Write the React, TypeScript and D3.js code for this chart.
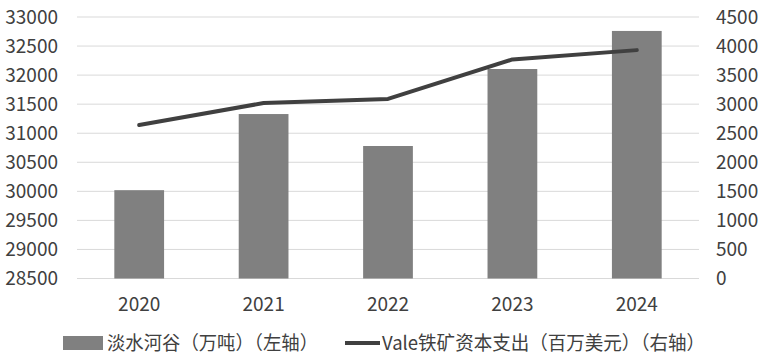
import { scaleBand, scaleLinear, line as d3Line, range } from "d3";

const years = ["2020", "2021", "2022", "2023", "2024"];
const valeOutput = [30020, 31330, 30780, 32105, 32760];
const valeCapex = [2640, 3020, 3090, 3770, 3930];
const leftTicks = range(28500, 33001, 500);
const rightTicks = range(0, 4501, 500);
const barLabel = "淡水河谷（万吨）（左轴）";
const lineLabel = "Vale铁矿资本支出（百万美元）（右轴）";

const W = 769;
const H = 361;
const margin = { top: 17, right: 70, bottom: 82.5, left: 77 };
const FONT = "'Noto Sans CJK SC', 'Noto Sans', sans-serif";

export default function App() {
  const width = W - margin.left - margin.right;
  const height = H - margin.top - margin.bottom;

  const x = scaleBand<string>().domain(years).range([0, width]).paddingInner(0.6).paddingOuter(0.3);
  const yLeft = scaleLinear().domain([28500, 33000]).range([height, 0]);
  const yRight = scaleLinear().domain([0, 4500]).range([height, 0]);

  const cx = (y: string) => (x(y) ?? 0) + x.bandwidth() / 2;

  const pathD =
    d3Line<number>()
      .x((_, i) => cx(years[i]))
      .y((d) => yRight(d))(valeCapex) ?? "";

  return (
    <svg width={W} height={H} style={{ position: "absolute", left: 0, top: 0 }} fontFamily={FONT}>
      <rect width={W} height={H} fill="#fff" />
      <g transform={`translate(${margin.left},${margin.top})`}>
        {leftTicks.map((t) => (
          <line key={`g-${t}`} x1={0} x2={width} y1={yLeft(t)} y2={yLeft(t)} stroke="#d9d9d9" strokeWidth={1} />
        ))}

        {years.map((yr, i) => (
          <rect
            key={`bar-${yr}`}
            x={x(yr)}
            width={x.bandwidth()}
            y={yLeft(valeOutput[i])}
            height={height - yLeft(valeOutput[i])}
            fill="#808080"
          />
        ))}

        <path d={pathD} fill="none" stroke="#404040" strokeWidth={4} strokeLinejoin="round" strokeLinecap="round" />

        {leftTicks.map((t) => (
          <text key={`l-${t}`} x={-19} y={yLeft(t)} dy="0.35em" textAnchor="end" fontSize={19} fill="#404040">
            {t}
          </text>
        ))}

        {rightTicks.map((t) => (
          <text key={`r-${t}`} x={width + 17} y={yRight(t)} dy="0.35em" textAnchor="start" fontSize={19} fill="#404040">
            {t}
          </text>
        ))}

        {years.map((yr) => (
          <text key={`x-${yr}`} x={cx(yr)} y={height + 26} dy="0.35em" textAnchor="middle" fontSize={19} fill="#404040">
            {yr}
          </text>
        ))}
      </g>

      <g transform="translate(0,343)">
        <rect x={63} y={-7} width={40} height={14} fill="#808080" />
        <text x={107} y={0} dy="0.35em" fontSize={19} fill="#404040" textLength={211} lengthAdjust="spacingAndGlyphs">
          {barLabel}
        </text>
        <line x1={345} x2={380} y1={0} y2={0} stroke="#404040" strokeWidth={4} />
        <text x={382} y={0} dy="0.35em" fontSize={19} fill="#404040" textLength={323} lengthAdjust="spacingAndGlyphs">
          {lineLabel}
        </text>
      </g>
    </svg>
  );
}
